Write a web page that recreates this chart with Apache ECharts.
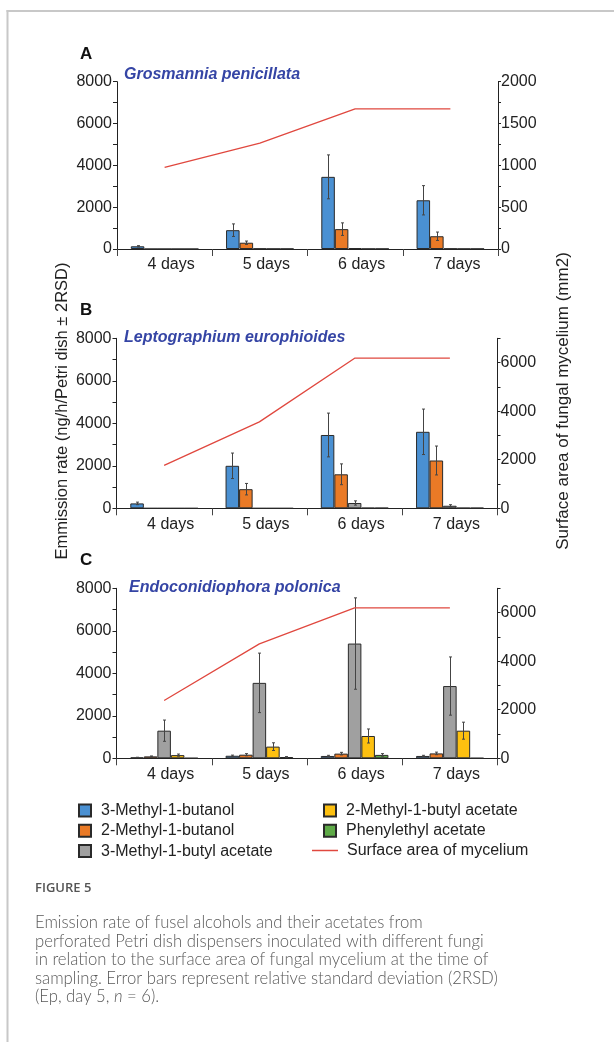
<!DOCTYPE html>
<html><head><meta charset="utf-8">
<script src="https://cdn.jsdelivr.net/npm/echarts@6/dist/echarts.min.js"></script>
<style>html,body{margin:0;padding:0;background:#fff}#c{width:614px;height:1042px}</style>
</head><body><div id="c"></div>
<script>
const categories = ['4 days', '5 days', '6 days', '7 days'];
const compounds = ['3-Methyl-1-butanol', '2-Methyl-1-butanol', '3-Methyl-1-butyl acetate', '2-Methyl-1-butyl acetate', 'Phenylethyl acetate'];
const lineName = 'Surface area of mycelium';
const panelTitles = ['Grosmannia penicillata', 'Leptographium europhioides', 'Endoconidiophora polonica'];
const panelLetters = ['A', 'B', 'C'];
const leftMax = 8000, leftInterval = 2000;
const rightMaxA = 2000, rightIntervalA = 500;
const rightMaxBC = 7000, rightIntervalBC = 2000;

// Panel A: Grosmannia penicillata
const gp_m3b = [130, 900, 3450, 2330];
const gp_m3b_err = [30, 300, 1050, 700];
const gp_m2b = [0, 300, 950, 610];
const gp_m2b_err = [0, 80, 300, 200];
const gp_m3ba = [0, 20, 40, 20];
const gp_m3ba_err = [0, 0, 0, 0];
const gp_m2ba = [0, 10, 10, 10];
const gp_m2ba_err = [0, 0, 0, 0];
const gp_pea = [0, 10, 10, 10];
const gp_pea_err = [0, 0, 0, 0];
const gp_area = [975, 1265, 1675, 1675];

// Panel B: Leptographium europhioides
const le_m3b = [230, 2000, 3450, 3600];
const le_m3b_err = [60, 600, 1030, 1070];
const le_m2b = [0, 900, 1600, 2250];
const le_m2b_err = [0, 270, 490, 680];
const le_m3ba = [0, 0, 250, 120];
const le_m3ba_err = [0, 0, 100, 50];
const le_m2ba = [0, 0, 20, 20];
const le_m2ba_err = [0, 0, 0, 0];
const le_pea = [0, 0, 20, 20];
const le_pea_err = [0, 0, 0, 0];
const le_area = [1770, 3560, 6180, 6180];

// Panel C: Endoconidiophora polonica
const ep_m3b = [40, 120, 110, 110];
const ep_m3b_err = [10, 30, 30, 30];
const ep_m2b = [90, 170, 220, 230];
const ep_m2b_err = [20, 50, 60, 60];
const ep_m3ba = [1300, 3550, 5400, 3400];
const ep_m3ba_err = [500, 1400, 2150, 1370];
const ep_m2ba = [150, 550, 1050, 1300];
const ep_m2ba_err = [50, 180, 330, 400];
const ep_pea = [10, 60, 160, 10];
const ep_pea_err = [0, 20, 60, 0];
const ep_area = [2380, 4710, 6190, 6190];

const captionHead = 'FIGURE 5';
const captionLines = [
  'Emission rate of fusel alcohols and their acetates from',
  'perforated Petri dish dispensers inoculated with different fungi',
  'in relation to the surface area of fungal mycelium at the time of',
  'sampling. Error bars represent relative standard deviation (2RSD)',
  '(Ep, day 5, {i|n} = 6).'
];
const leftAxisName = 'Emmission rate (ng/h/Petri dish \u00b1 2RSD)';
const rightAxisName = 'Surface area of fungal mycelium (mm2)';

const colors = ['#4A90D2', '#EA7A26', '#A0A0A0', '#FDC010', '#5EAA47'];
const lineColor = '#E0483F';
const FONT = '"Liberation Sans", Arial, sans-serif';
const CAT_GAP = 0.29;

const panels = [
  { means: [gp_m3b, gp_m2b, gp_m3ba, gp_m2ba, gp_pea], errs: [gp_m3b_err, gp_m2b_err, gp_m3ba_err, gp_m2ba_err, gp_pea_err], area: gp_area },
  { means: [le_m3b, le_m2b, le_m3ba, le_m2ba, le_pea], errs: [le_m3b_err, le_m2b_err, le_m3ba_err, le_m2ba_err, le_pea_err], area: le_area },
  { means: [ep_m3b, ep_m2b, ep_m3ba, ep_m2ba, ep_pea], errs: [ep_m3b_err, ep_m2b_err, ep_m3ba_err, ep_m2ba_err, ep_pea_err], area: ep_area }
];

const grids = [
  { left: 117, width: 381, top: 81.7, height: 167.3 },
  { left: 116.5, width: 381, top: 338.3, height: 170 },
  { left: 116.5, width: 381, top: 588.3, height: 170 }
];
const titleTops = [67, 329.5, 579.5];
const titleLefts = [124, 124, 129];
const letterTops = [45.5, 301.5, 552];

const axisColor = '#222';
const labelStyle = { color: '#222', fontSize: 16, fontFamily: FONT };
const plain = v => String(v);

const xAxes = [], yAxes = [], series = [], titles = [];
panels.forEach((p, pi) => {
  xAxes.push({
    type: 'category', gridIndex: pi, data: categories,
    axisLine: { lineStyle: { color: axisColor, width: 1 } },
    axisTick: { show: true, length: 7, lineStyle: { color: '#444' } },
    axisLabel: Object.assign({ margin: 8, padding: [0, 0, 0, 13] }, labelStyle)
  });
  yAxes.push({
    type: 'value', gridIndex: pi, position: 'left', min: 0, max: leftMax, interval: leftInterval,
    splitLine: { show: false },
    axisLine: { show: true, lineStyle: { color: axisColor } },
    axisTick: { show: true, length: 4, lineStyle: { color: axisColor } },
    minorTick: { show: true, splitNumber: 2, length: 4, lineStyle: { color: axisColor } },
    axisLabel: Object.assign({ margin: 5, formatter: plain }, labelStyle)
  });
  const rMax = pi === 0 ? rightMaxA : rightMaxBC;
  const rInt = pi === 0 ? rightIntervalA : rightIntervalBC;
  yAxes.push({
    type: 'value', gridIndex: pi, position: 'right', min: 0, max: rMax, interval: rInt,
    splitLine: { show: false },
    axisLine: { show: true, lineStyle: { color: axisColor } },
    axisTick: { show: true, length: 3, lineStyle: { color: axisColor } },
    minorTick: { show: true, splitNumber: 2, length: 3, lineStyle: { color: axisColor } },
    axisLabel: Object.assign({ margin: 3, showMaxLabel: pi === 0, formatter: plain }, labelStyle)
  });
  p.means.forEach((m, k) => {
    series.push({
      type: 'bar', name: compounds[k], xAxisIndex: pi, yAxisIndex: pi * 2,
      data: m, barGap: '0%', barCategoryGap: (CAT_GAP * 100) + '%',
      itemStyle: { color: colors[k], borderColor: '#2a2a2a', borderWidth: 1 },
      emphasis: { disabled: true }, animation: false
    });
  });
  p.means.forEach((m, k) => {
    const errs = p.errs[k];
    series.push({
      type: 'custom', xAxisIndex: pi, yAxisIndex: pi * 2, silent: true, z: 5, animation: false,
      encode: { x: 0, y: 1 },
      data: m.map((v, i) => [i, v, errs[i]]),
      renderItem: function (params, api) {
        const err = api.value(2);
        if (!err) return null;
        const i = api.value(0), v = api.value(1);
        const band = api.size([1, 0])[0];
        const bw = band * (1 - CAT_GAP) / 5;
        const cx = Math.round(api.coord([i, 0])[0] + (k - 2) * bw) + 0.5;
        const yt = api.coord([i, v + err])[1];
        const yb = api.coord([i, Math.max(0, v - err)])[1];
        const cap = 1.5;
        const st = { stroke: '#444', lineWidth: 1 };
        return {
          type: 'group', children: [
            { type: 'line', shape: { x1: cx, y1: yt, x2: cx, y2: yb }, style: st },
            { type: 'line', shape: { x1: cx - cap, y1: yt, x2: cx + cap, y2: yt }, style: st },
            { type: 'line', shape: { x1: cx - cap, y1: yb, x2: cx + cap, y2: yb }, style: st }
          ]
        };
      }
    });
  });
  series.push({
    type: 'line', name: lineName, xAxisIndex: pi, yAxisIndex: pi * 2 + 1,
    data: p.area, symbol: 'none', z: 6, animation: false,
    lineStyle: { color: lineColor, width: 1.3 }, itemStyle: { color: lineColor }
  });
  titles.push({
    text: panelTitles[pi], left: titleLefts[pi], top: titleTops[pi], padding: 0,
    textStyle: { color: '#3545A5', fontSize: 16, fontWeight: 'bold', fontStyle: 'italic', fontFamily: FONT }
  });
  titles.push({
    text: panelLetters[pi], left: 80, top: letterTops[pi], padding: 0,
    textStyle: { color: '#111', fontSize: 17, fontWeight: 'bold', fontFamily: FONT }
  });
});

const legendText = { color: '#222', fontSize: 16, fontFamily: FONT, padding: [0, 0, 0, 5] };
const option = {
  backgroundColor: '#fff',
  animation: false,
  textStyle: { fontFamily: FONT },
  title: titles,
  grid: grids,
  xAxis: xAxes,
  yAxis: yAxes,
  series: series,
  legend: [
    { orient: 'vertical', left: 73, top: 797.5, itemWidth: 12, itemHeight: 12, itemGap: 4.3, selectedMode: false,
      data: compounds.slice(0, 3).map(n => ({ name: n, icon: 'rect' })), textStyle: legendText },
    { orient: 'vertical', left: 318, top: 797.5, itemWidth: 12, itemHeight: 12, itemGap: 4.3, selectedMode: false,
      data: compounds.slice(3, 5).map(n => ({ name: n, icon: 'rect' })), textStyle: legendText },
    { orient: 'vertical', left: 307, top: 837.5, itemWidth: 26, itemHeight: 1.5, selectedMode: false,
      data: [{ name: lineName, icon: 'rect' }], textStyle: Object.assign({}, legendText, { padding: [0, 0, 0, 4] }) }
  ],
  graphic: [
    { type: 'rect', shape: { x: 6.5, y: 10, width: 2, height: 1032 }, style: { fill: '#c8c8c8' }, silent: true },
    { type: 'rect', shape: { x: 6.5, y: 10, width: 608, height: 2 }, style: { fill: '#c8c8c8' }, silent: true },
    { type: 'text', x: 62, y: 411, rotation: Math.PI / 2, silent: true,
      style: { text: leftAxisName, align: 'center', verticalAlign: 'middle', fill: '#222', fontSize: 16.5, fontFamily: FONT } },
    { type: 'text', x: 563, y: 401, rotation: Math.PI / 2, silent: true,
      style: { text: rightAxisName, align: 'center', verticalAlign: 'middle', fill: '#222', fontSize: 17, fontFamily: FONT } },
    { type: 'text', x: 35, y: 882, silent: true,
      style: { text: captionHead, fill: '#555', fontSize: 13, fontWeight: 600, fontFamily: '"Open Sans", sans-serif' } },
    { type: 'text', x: 35, y: 913.5, silent: true,
      style: { text: captionLines.join('\n'), fill: '#595959', fontSize: 16.7, lineHeight: 18.5, fontWeight: 300,
        fontFamily: 'Lato, "Open Sans", sans-serif',
        rich: { i: { fontStyle: 'italic', fill: '#595959', fontSize: 16.7, lineHeight: 18.5, fontWeight: 300, fontFamily: 'Lato, sans-serif' } } } }
  ]
};
const chart = echarts.init(document.getElementById('c'), null, { renderer: 'canvas' });
chart.setOption(option);
</script>
</body></html>
